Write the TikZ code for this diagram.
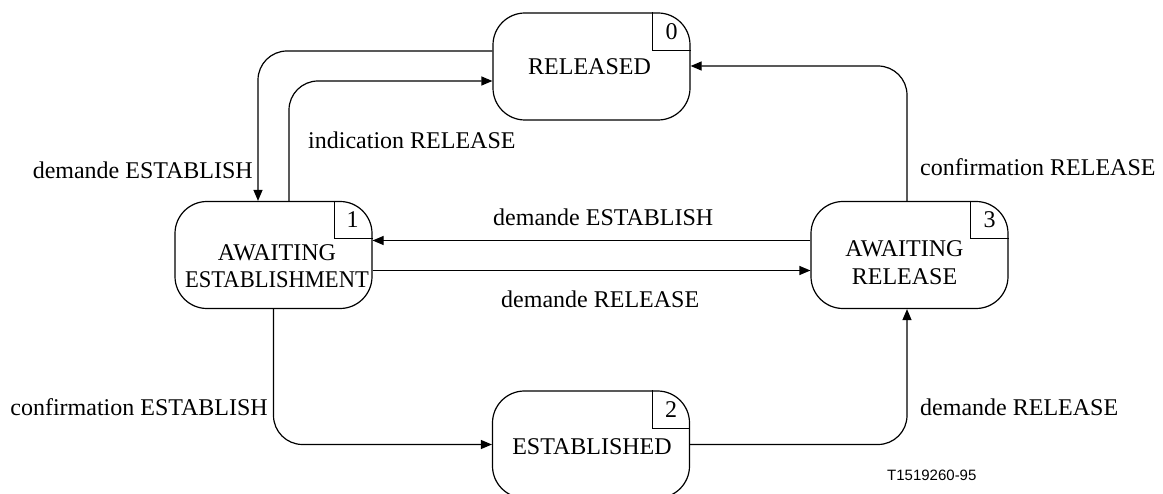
\documentclass[tikz,border=0pt]{standalone}
\usepackage{fontspec}
\usepackage{graphicx}
\setmainfont{Liberation Serif}
\newfontfamily\tagfont{Liberation Sans}
\usetikzlibrary{arrows.meta}
\begin{document}
\begin{tikzpicture}[x=1pt,y=-1pt,
  state/.style={draw,line width=1.2pt,rounded corners=32pt,minimum width=197pt,minimum height=107pt,inner sep=0pt},
  stext/.style={inner sep=0pt,align=center,font=\fontsize{24pt}{27.5pt}\selectfont},
  lbl/.style={inner sep=0pt,font=\fontsize{24pt}{27pt}\selectfont},
  arr/.style={line width=1.2pt,rounded corners=29pt,-{Triangle[length=11pt,width=9pt]}},
  tagline/.style={line width=1.2pt}]
\useasboundingbox (0,0) rectangle (1163,494);
\node[state] (rel) at (591.5,66.5) {};
\node[stext] (relt) at ([xshift=-2pt]rel.center) {RELEASED};
\node[state] (ae) at (273.5,255) {};
\node[stext] (aet) at ([xshift=3.5pt,yshift=-11pt]ae.center) {AWAITING\\\scalebox{0.94}[1]{ESTABLISHMENT}};
\node[state] (ar) at (909.5,255) {};
\node[stext] (art) at ([xshift=-5pt,yshift=-7.5pt]ar.center) {AWAITING\\RELEASE};
\node[state] (est) at (591,444.5) {};
\node[stext] (estt) at ([xshift=1pt,yshift=-2pt]est.center) {ESTABLISHED};
% corner tags
\draw[tagline] ([xshift=-38pt]rel.north east) |- ([yshift=-38pt]rel.north east);
\node[lbl] (n0) at ([xshift=-19pt,yshift=-19pt]rel.north east) {0};
\draw[tagline] ([xshift=-38pt]ae.north east) |- ([yshift=-38pt]ae.north east);
\node[lbl] (n1) at ([xshift=-20pt,yshift=-19pt]ae.north east) {1};
\draw[tagline] ([xshift=-38pt]ar.north east) |- ([yshift=-38pt]ar.north east);
\node[lbl] (n3) at ([xshift=-19pt,yshift=-19pt]ar.north east) {3};
\draw[tagline] ([xshift=-38pt]est.north east) |- ([yshift=-38pt]est.north east);
\node[lbl] (n2) at ([xshift=-19pt,yshift=-19pt]est.north east) {2};
% connectors
\draw[arr] ([yshift=15.5pt]rel.west) -| ([xshift=-15.5pt]ae.north);
\draw[arr] ([xshift=15.5pt]ae.north) |- ([yshift=-14.5pt]rel.west);
\draw[arr] ([yshift=14.5pt]ar.west) -- ([yshift=14.5pt]ae.east);
\draw[arr] ([yshift=-15.5pt]ae.east) -- ([yshift=-15.5pt]ar.west);
\draw[arr] ([xshift=-2.5pt]ar.north) |- ([yshift=0.5pt]rel.east);
\draw[arr] (ae.south) |- (est.west);
\draw[arr] (est.east) -| ([xshift=-2.5pt]ar.south);
% labels
\node[lbl,anchor=east] (l1) at (253,170) {demande ESTABLISH};
\node[lbl,anchor=west] (l2) at (308,140) {indication RELEASE};
\node[lbl,anchor=west] (l3) at (493,217) {demande ESTABLISH};
\node[lbl,anchor=west] (l4) at (501,299) {demande RELEASE};
\node[lbl,anchor=west] (l5) at (920,167) {confirmation RELEASE};
\node[lbl,anchor=east] (l6) at (268,407) {confirmation ESTABLISH};
\node[lbl,anchor=west] (l7) at (920,407) {demande RELEASE};
\node[inner sep=0pt,anchor=west,font=\tagfont\fontsize{15pt}{17pt}\selectfont] (tag) at (887,475) {T1519260-95};
\end{tikzpicture}
\end{document}
